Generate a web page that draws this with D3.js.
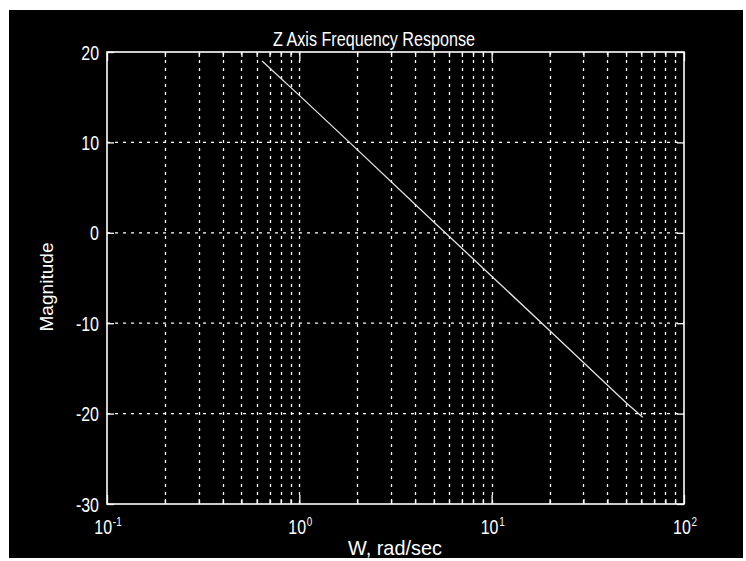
<!DOCTYPE html>
<html>
<head>
<meta charset="utf-8">
<script src="https://cdn.jsdelivr.net/npm/d3@7/dist/d3.min.js"></script>
<style>
html,body{margin:0;padding:0;background:#fff;}
svg{display:block;}
text{font-family:"Liberation Sans",Arial,Helvetica,sans-serif;fill:#fff;}
</style>
</head>
<body>
<svg id="chart" width="746" height="561"></svg>
<script>
// ---- data ----
const freq = [0.64, 1, 2, 5, 10, 20, 50, 61];          // W, rad/sec
const magnitude = [19.0, 15.2, 9.2, 1.2, -4.8, -10.8, -18.8, -20.4];
const yTicks = [20, 10, 0, -10, -20, -30];
const xDecades = [0.1, 1, 10, 100];
const xExponents = ["-1", "0", "1", "2"];
const titleText = "Z Axis Frequency Response";
const xLabelText = "W, rad/sec";
const yLabelText = "Magnitude";

const svg = d3.select("#chart");
const L = 107, R = 684, T = 52, B = 504;

svg.append("rect").attr("x", 9).attr("y", 10).attr("width", 734).attr("height", 548).attr("fill", "#000");

const x = d3.scaleLog().domain([0.1, 100]).range([L, R]);
const y = d3.scaleLinear().domain([-30, 20]).range([B, T]);

// minor values
const minorVals = [];
[0.1, 1, 10].forEach(d => { for (let k = 2; k <= 9; k++) minorVals.push(+(k * d).toPrecision(3)); });
const gridX = minorVals.concat([1, 10]);

// grid
const grid = svg.append("g").attr("stroke", "#fff").attr("stroke-width", 1.3).attr("stroke-dasharray", "3,5");
grid.selectAll("line.v").data(gridX).join("line").attr("class", "v")
  .attr("x1", d => Math.round(x(d)) + 0.5).attr("x2", d => Math.round(x(d)) + 0.5)
  .attr("y1", T).attr("y2", B);
grid.selectAll("line.h").data(yTicks.filter(v => v > -30 && v < 20)).join("line").attr("class", "h")
  .attr("y1", d => y(d)).attr("y2", d => y(d)).attr("x1", L).attr("x2", R);

// tick marks via axes
function styleAxis(g) {
  g.select(".domain").remove();
  g.selectAll("line").attr("stroke", "#fff").attr("stroke-width", 1.3);
  g.selectAll("text").remove();
}
svg.append("g").attr("transform", `translate(0,${B})`).call(d3.axisBottom(x).tickValues(minorVals).tickSize(-5).tickFormat("")).call(styleAxis);
svg.append("g").attr("transform", `translate(0,${B})`).call(d3.axisBottom(x).tickValues(xDecades).tickSize(-9).tickFormat("")).call(styleAxis);
svg.append("g").attr("transform", `translate(0,${T})`).call(d3.axisTop(x).tickValues(minorVals).tickSize(-5).tickFormat("")).call(styleAxis);
svg.append("g").attr("transform", `translate(0,${T})`).call(d3.axisTop(x).tickValues(xDecades).tickSize(-9).tickFormat("")).call(styleAxis);
svg.append("g").attr("transform", `translate(${L},0)`).call(d3.axisLeft(y).tickValues(yTicks).tickSize(-7).tickFormat("")).call(styleAxis);
svg.append("g").attr("transform", `translate(${R},0)`).call(d3.axisRight(y).tickValues(yTicks).tickSize(-7).tickFormat("")).call(styleAxis);

// box
svg.append("rect").attr("x", L).attr("y", T).attr("width", R - L).attr("height", B - T)
  .attr("fill", "none").attr("stroke", "#fff").attr("stroke-width", 1.6);

// response line
const line = d3.line().x((d, i) => x(freq[i])).y(d => y(d));
svg.append("path").datum(magnitude).attr("d", line)
  .attr("fill", "none").attr("stroke", "#e4e4e4").attr("stroke-width", 1.3);

// y tick labels
const SX = 0.76;
yTicks.forEach(v => {
  svg.append("g").attr("transform", `translate(99,${y(v) + 7.5}) scale(${SX},1)`)
    .append("text").attr("text-anchor", "end").attr("font-size", 21).text(v);
});

// x tick labels
xDecades.forEach((v, i) => {
  const t = svg.append("g").attr("transform", `translate(${x(v) + 1},534) scale(${SX},1)`)
    .append("text").attr("text-anchor", "middle").attr("font-size", 21);
  t.append("tspan").text("10");
  t.append("tspan").attr("font-size", 13).attr("dy", -8).attr("dx", 1).text(xExponents[i]);
});

// title & axis labels
svg.append("text").attr("x", 374).attr("y", 46).attr("text-anchor", "middle").attr("font-size", 21)
  .attr("textLength", 202).attr("lengthAdjust", "spacingAndGlyphs").text(titleText);
svg.append("text").attr("x", 395).attr("y", 555).attr("text-anchor", "middle").attr("font-size", 21)
  .attr("textLength", 94).attr("lengthAdjust", "spacingAndGlyphs").text(xLabelText);
svg.append("text").attr("transform", "translate(53,287) rotate(-90)").attr("text-anchor", "middle").attr("font-size", 19)
  .attr("textLength", 89).attr("lengthAdjust", "spacingAndGlyphs").text(yLabelText);
</script>
</body>
</html>
